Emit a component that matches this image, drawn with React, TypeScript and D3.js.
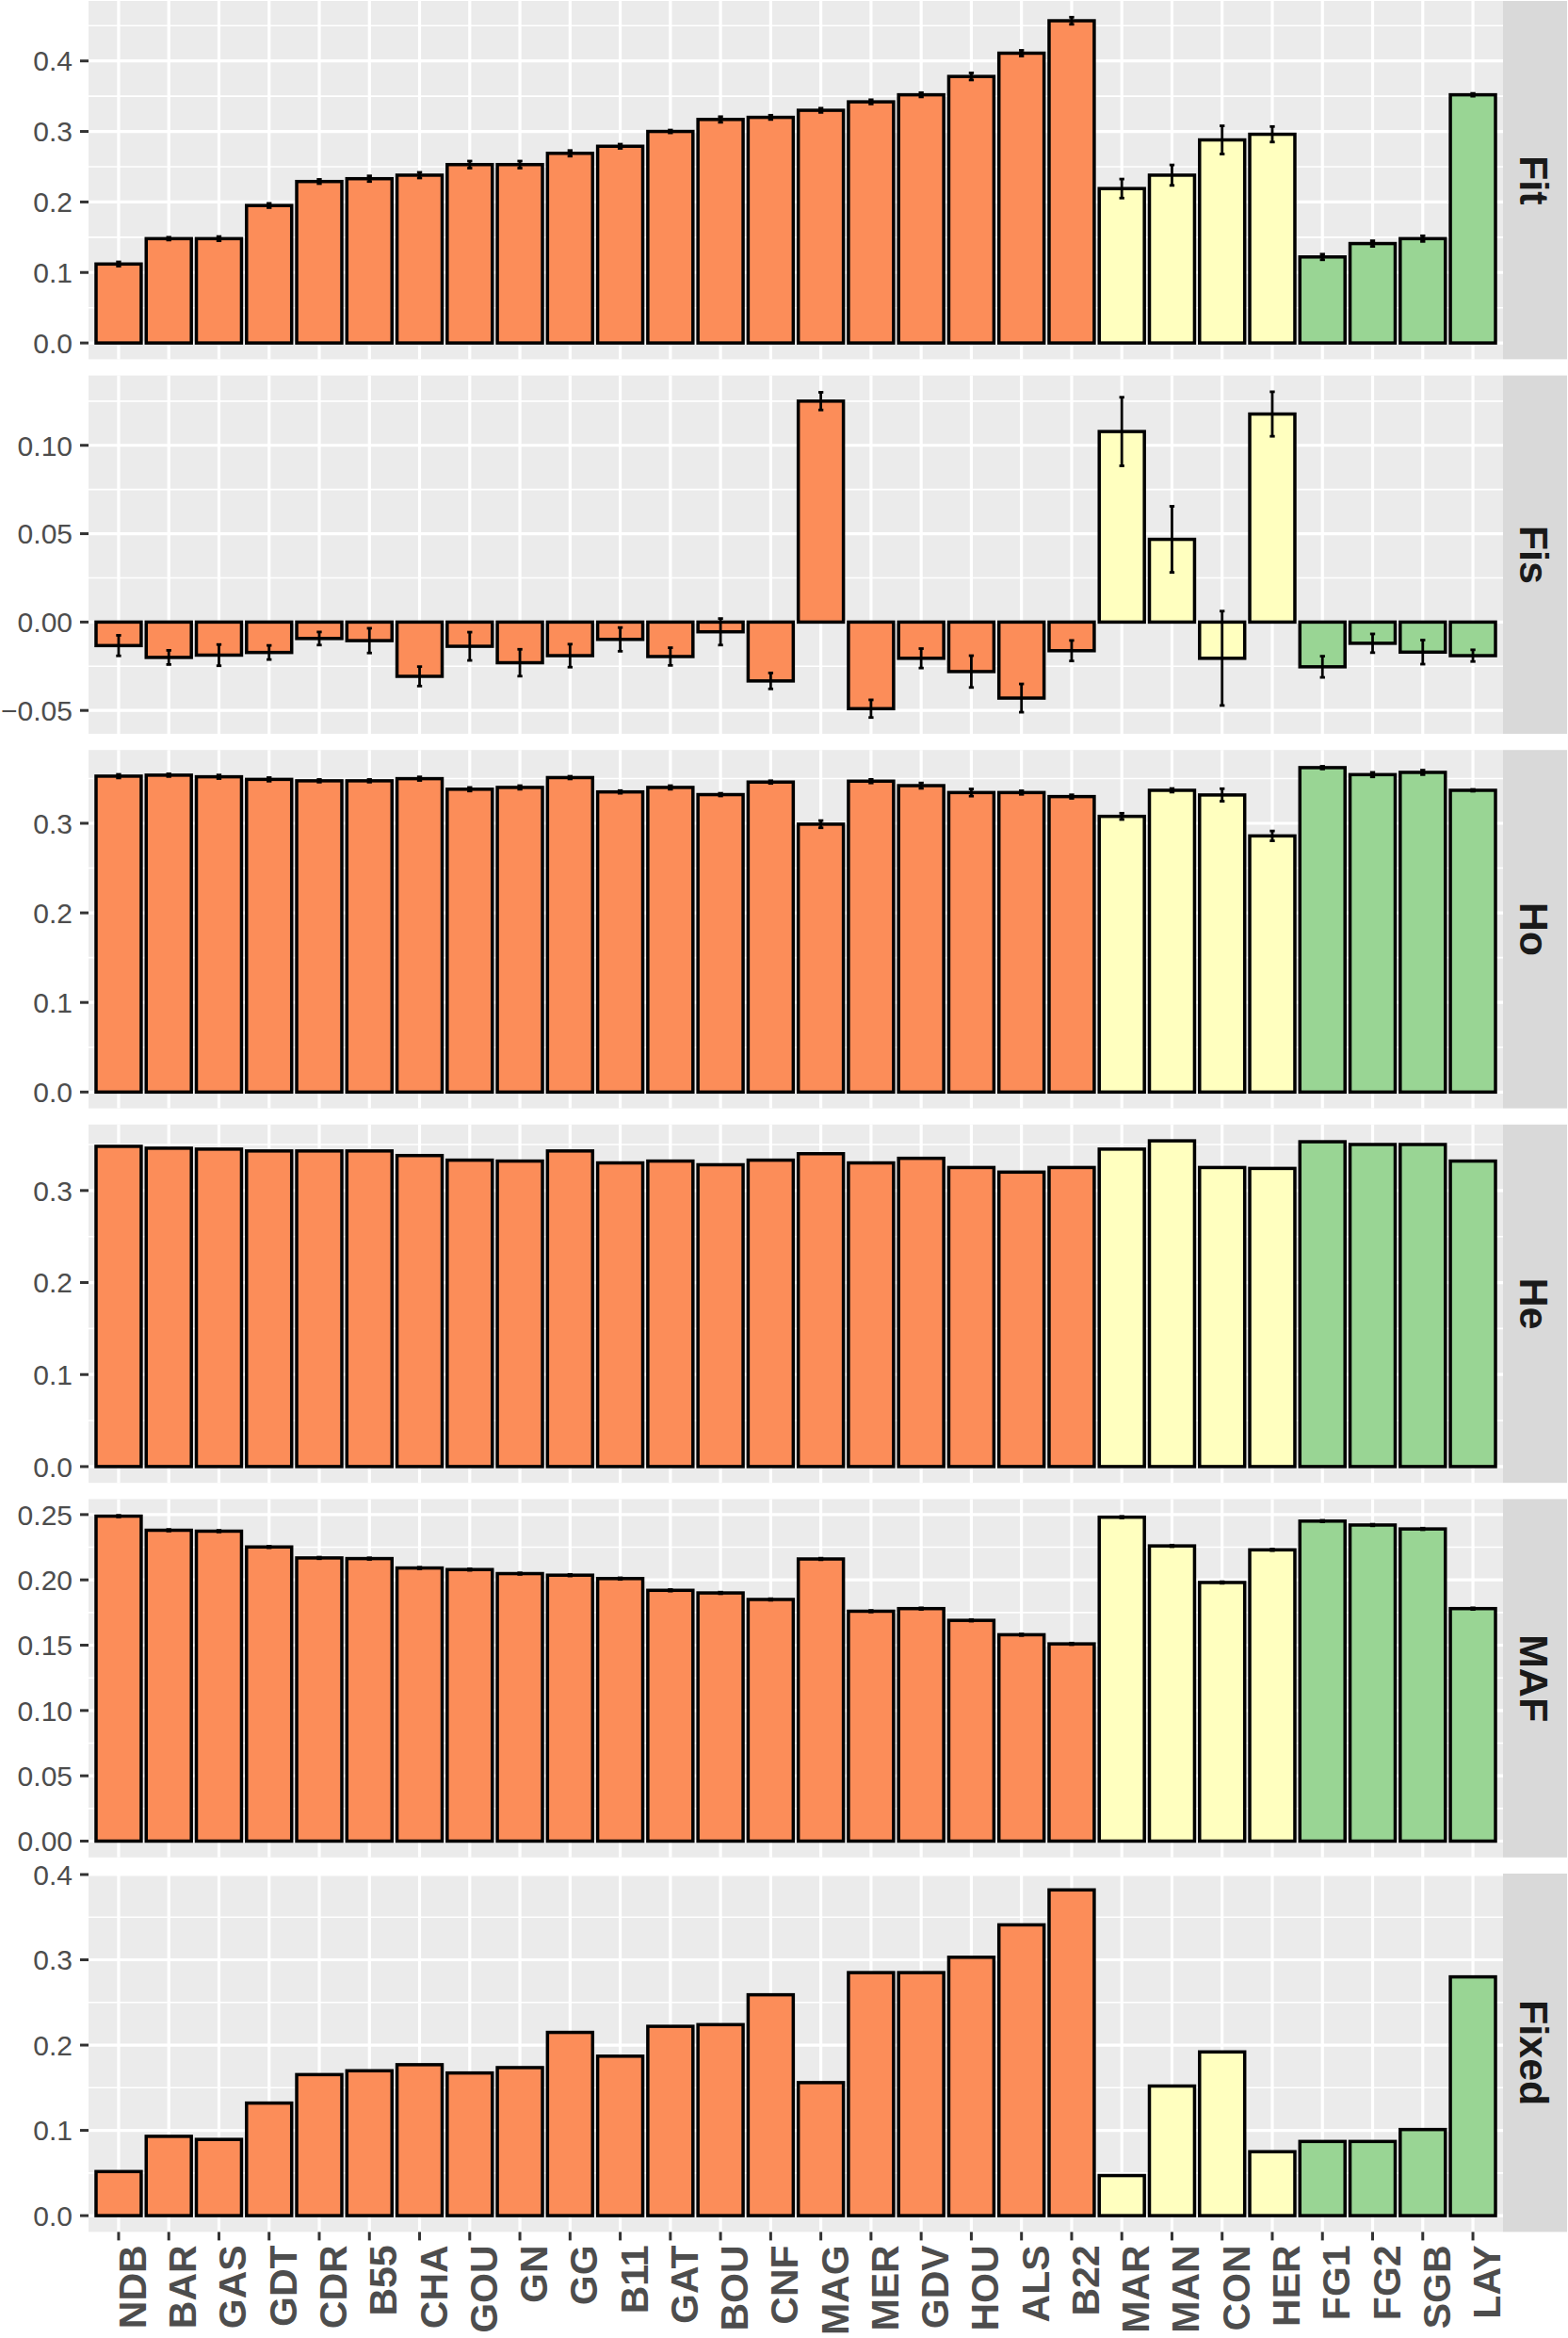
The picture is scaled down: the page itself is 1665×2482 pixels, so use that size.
import React from 'react';
import * as d3 from 'd3';

// populations, in plotting order
const populations = [
  'NDB', 'BAR', 'GAS', 'GDT', 'CDR', 'B55', 'CHA', 'GOU', 'GN', 'GG',
  'B11', 'GAT', 'BOU', 'CNF', 'MAG', 'MER', 'GDV', 'HOU', 'ALS', 'B22',
  'MAR', 'MAN', 'CON', 'HER', 'FG1', 'FG2', 'SGB', 'LAY',
];
const groups = [
  'A', 'A', 'A', 'A', 'A', 'A', 'A', 'A', 'A', 'A',
  'A', 'A', 'A', 'A', 'A', 'A', 'A', 'A', 'A', 'A',
  'B', 'B', 'B', 'B', 'C', 'C', 'C', 'C',
];
const groupColors = { A: '#FC8D59', B: '#FFFFBF', C: '#99D594' };

const fitMean = [
  0.112, 0.148, 0.148, 0.195, 0.229, 0.233, 0.238, 0.253, 0.253, 0.269,
  0.279, 0.300, 0.317, 0.320, 0.330, 0.342, 0.352, 0.378, 0.411, 0.457,
  0.219, 0.238, 0.288, 0.296, 0.122, 0.141, 0.148, 0.352,
];
const fitSe = [
  0.003, 0.002, 0.003, 0.003, 0.003, 0.004, 0.004, 0.005, 0.005, 0.004,
  0.003, 0.002, 0.004, 0.003, 0.003, 0.003, 0.003, 0.005, 0.004, 0.005,
  0.0135, 0.0145, 0.020, 0.011, 0.004, 0.004, 0.004, 0.002,
];
const fisMean = [
  -0.0133, -0.020, -0.0187, -0.0172, -0.0093, -0.0105, -0.0307, -0.0137, -0.023, -0.019,
  -0.0098, -0.0195, -0.0055, -0.0333, 0.125, -0.049, -0.0205, -0.028, -0.043, -0.0162,
  0.1078, 0.0468, -0.0205, 0.1177, -0.0253, -0.012, -0.017, -0.019,
];
const fisSe = [
  0.0058, 0.004, 0.006, 0.004, 0.0037, 0.007, 0.0055, 0.008, 0.0076, 0.0065,
  0.0067, 0.005, 0.0075, 0.0045, 0.005, 0.005, 0.0055, 0.009, 0.008, 0.0058,
  0.0194, 0.0187, 0.0267, 0.0126, 0.006, 0.0053, 0.0068, 0.0033,
];
const hoMean = [
  0.3526, 0.3537, 0.3519, 0.349, 0.3474, 0.3474, 0.3498, 0.338, 0.340, 0.351,
  0.335, 0.340, 0.332, 0.346, 0.299, 0.347, 0.342, 0.3343, 0.3343, 0.3298,
  0.3077, 0.3368, 0.3316, 0.2859, 0.3621, 0.3543, 0.3568, 0.3368,
];
const hoSe = [
  0.002, 0.0015, 0.002, 0.002, 0.0015, 0.0015, 0.002, 0.002, 0.002, 0.0015,
  0.0015, 0.002, 0.0015, 0.0015, 0.004, 0.002, 0.003, 0.004, 0.002, 0.002,
  0.0035, 0.002, 0.007, 0.0055, 0.0015, 0.0025, 0.0025, 0.001,
];
const heMean = [
  0.348, 0.346, 0.345, 0.343, 0.343, 0.343, 0.338, 0.333, 0.332, 0.343,
  0.330, 0.332, 0.328, 0.333, 0.340, 0.330, 0.335, 0.325, 0.320, 0.325,
  0.345, 0.354, 0.325, 0.324, 0.353, 0.350, 0.350, 0.332,
];
const mafMean = [
  0.2488, 0.2380, 0.2373, 0.2252, 0.2168, 0.2163, 0.2091, 0.2079, 0.2048, 0.2036,
  0.201, 0.192, 0.190, 0.185, 0.216, 0.176, 0.178, 0.169, 0.158, 0.151,
  0.248, 0.226, 0.198, 0.223, 0.245, 0.242, 0.239, 0.178,
];
const mafSe = [
  0.0006, 0.0006, 0.0006, 0.0006, 0.0006, 0.0006, 0.0006, 0.0006, 0.0006, 0.0006,
  0.0006, 0.0006, 0.0006, 0.0006, 0.0006, 0.0006, 0.0006, 0.0006, 0.0006, 0.0006,
  0.0006, 0.0006, 0.0006, 0.0006, 0.0006, 0.0006, 0.0006, 0.0006,
];
const fixedMean = [
  0.0517, 0.093, 0.0894, 0.132, 0.1654, 0.1699, 0.177, 0.1673, 0.1736, 0.2149,
  0.187, 0.222, 0.224, 0.259, 0.156, 0.285, 0.285, 0.303, 0.341, 0.382,
  0.047, 0.152, 0.192, 0.075, 0.087, 0.087, 0.101, 0.280,
];

const fitTicks = [0, 0.1, 0.2, 0.3, 0.4];
const fitTickLabels = ['0.0', '0.1', '0.2', '0.3', '0.4'];
const fisTicks = [-0.05, 0, 0.05, 0.1];
const fisTickLabels = ['\u22120.05', '0.00', '0.05', '0.10'];
const hoTicks = [0, 0.1, 0.2, 0.3];
const hoTickLabels = ['0.0', '0.1', '0.2', '0.3'];
const heTicks = [0, 0.1, 0.2, 0.3];
const heTickLabels = ['0.0', '0.1', '0.2', '0.3'];
const mafTicks = [0, 0.05, 0.1, 0.15, 0.2, 0.25];
const mafTickLabels = ['0.00', '0.05', '0.10', '0.15', '0.20', '0.25'];
const fixedTicks = [0, 0.1, 0.2, 0.3, 0.4];
const fixedTickLabels = ['0.0', '0.1', '0.2', '0.3', '0.4'];

const panels = [
  { key: 'Fit', mean: fitMean, se: fitSe, ticks: fitTicks, labels: fitTickLabels },
  { key: 'Fis', mean: fisMean, se: fisSe, ticks: fisTicks, labels: fisTickLabels },
  { key: 'Ho', mean: hoMean, se: hoSe, ticks: hoTicks, labels: hoTickLabels },
  { key: 'He', mean: heMean, se: null, ticks: heTicks, labels: heTickLabels },
  { key: 'MAF', mean: mafMean, se: mafSe, ticks: mafTicks, labels: mafTickLabels },
  { key: 'Fixed', mean: fixedMean, se: null, ticks: fixedTicks, labels: fixedTickLabels },
];

const W = 1665;
const H = 2482;
const left = 94;
const right = 1596;
const stripRight = 1664;
const top0 = 1;
const pitch = 397.6;
const panelH = 380.4;
const font = 'Liberation Sans, Arial, Helvetica, sans-serif';

const x = d3.scaleBand<string>()
  .domain(populations)
  .range([left, right])
  .paddingInner(0.1)
  .paddingOuter(0.15);

const Panel = ({ p, top }: { p: any; top: number }) => {
  const lows = p.mean.map((m: number, i: number) => m - (p.se ? p.se[i] : 0));
  const highs = p.mean.map((m: number, i: number) => m + (p.se ? p.se[i] : 0));
  const lo = Math.min(0, d3.min(lows) as number);
  const hi = Math.max(0, d3.max(highs) as number);
  const pad = (hi - lo) * 0.05;
  const y = d3.scaleLinear().domain([lo - pad, hi + pad]).range([top + panelH, top]);
  const step = p.ticks[1] - p.ticks[0];
  const minors = [p.ticks[0] - step / 2, ...p.ticks.map((t: number) => t + step / 2)]
    .filter((v) => v >= lo - pad && v <= hi + pad);
  const bw = x.bandwidth();
  const capW = x.step() * 0.1;

  return (
    <g>
      <rect x={left} y={top} width={right - left} height={panelH} fill="#EBEBEB" />
      {minors.map((v) => (
        <line key={'mn' + v} x1={left} x2={right} y1={y(v)} y2={y(v)} stroke="#fff" strokeWidth={1.6} />
      ))}
      {p.ticks.map((v: number) => (
        <line key={'mj' + v} x1={left} x2={right} y1={y(v)} y2={y(v)} stroke="#fff" strokeWidth={3.2} />
      ))}
      {populations.map((d) => (
        <line key={'vg' + d} x1={(x(d) as number) + bw / 2} x2={(x(d) as number) + bw / 2}
          y1={top} y2={top + panelH} stroke="#fff" strokeWidth={3.2} />
      ))}
      {populations.map((d, i) => {
        const v = p.mean[i];
        return (
          <rect key={'b' + d} x={x(d)} width={bw}
            y={Math.min(y(v), y(0))} height={Math.abs(y(v) - y(0))}
            fill={groupColors[groups[i] as 'A' | 'B' | 'C']} stroke="#000" strokeWidth={3.5} />
        );
      })}
      {p.se && populations.map((d, i) => {
        const cx = (x(d) as number) + bw / 2;
        const y1 = y(p.mean[i] + p.se[i]);
        const y2 = y(p.mean[i] - p.se[i]);
        return (
          <g key={'e' + d} stroke="#000" strokeWidth={2.8}>
            <line x1={cx} x2={cx} y1={y1} y2={y2} />
            <line x1={cx - capW / 2} x2={cx + capW / 2} y1={y1} y2={y1} />
            <line x1={cx - capW / 2} x2={cx + capW / 2} y1={y2} y2={y2} />
          </g>
        );
      })}
      {p.ticks.map((v: number, j: number) => (
        <g key={'yt' + v}>
          <line x1={left - 9} x2={left} y1={y(v)} y2={y(v)} stroke="#333" strokeWidth={3} />
          <text x={77} y={y(v)} dy="0.36em" textAnchor="end" fontSize={30} fill="#4D4D4D" fontFamily={font}>
            {p.labels[j]}
          </text>
        </g>
      ))}
      <rect x={right} y={top} width={stripRight - right} height={panelH} fill="#D9D9D9" />
      <text transform={`translate(${1614},${top + panelH / 2}) rotate(90)`} textAnchor="middle"
        fontSize={43} fontWeight="bold" fill="#1A1A1A" fontFamily={font}>
        {p.key}
      </text>
    </g>
  );
};

export default function App() {
  const bottom = top0 + pitch * 5 + panelH;
  return (
    <div>
      <style>{'body{margin:0}'}</style>
      <svg width={W} height={H} style={{ display: 'block' }}>
        <rect width={W} height={H} fill="#fff" />
        {panels.map((p, i) => (
          <Panel key={p.key} p={p} top={top0 + i * pitch} />
        ))}
        {populations.map((d) => {
          const cx = (x(d) as number) + x.bandwidth() / 2;
          return (
            <g key={'xt' + d}>
              <line x1={cx} x2={cx} y1={bottom} y2={bottom + 9} stroke="#333" strokeWidth={3} />
              <text transform={`translate(${cx + 29},${bottom + 14}) rotate(-90)`} textAnchor="end"
                fontSize={41} fontWeight="bold" fill="#4D4D4D" fontFamily={font}>
                {d}
              </text>
            </g>
          );
        })}
      </svg>
    </div>
  );
}
